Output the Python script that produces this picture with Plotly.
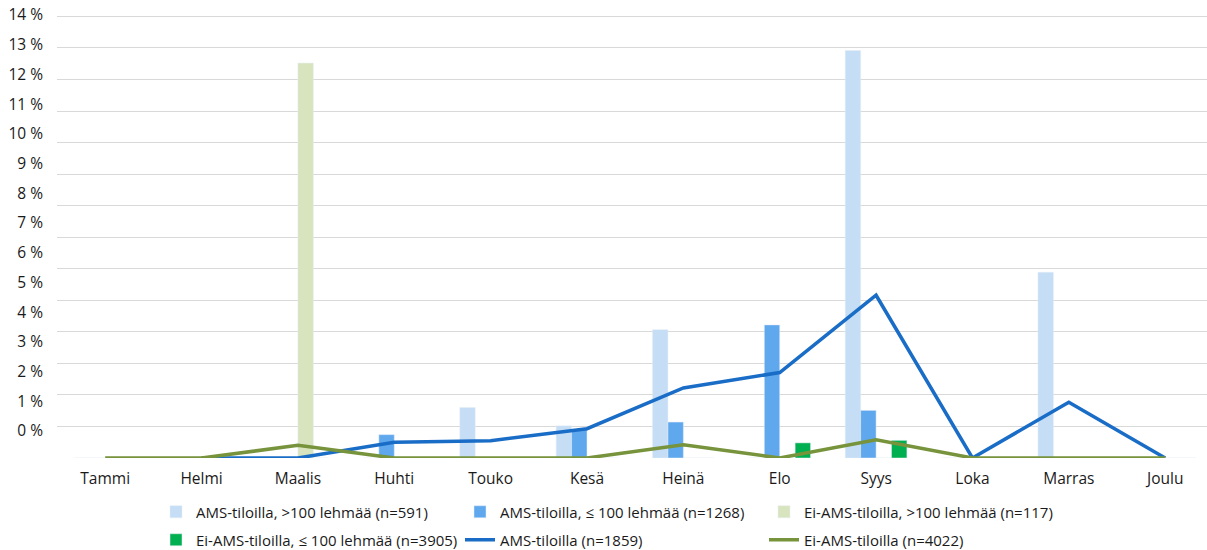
import plotly.graph_objects as go

months = ["Tammi", "Helmi", "Maalis", "Huhti", "Touko", "Kesä", "Heinä", "Elo", "Syys", "Loka", "Marras", "Joulu"]

ams_gt100 = [0, 0, 0, 0, 1.60, 1.02, 4.07, 0, 12.92, 0, 5.89, 0]
ams_le100 = [0, 0, 0, 0.74, 0, 0.92, 1.14, 4.22, 1.51, 0, 0, 0]
ei_gt100 = [0, 0, 12.52, 0, 0, 0, 0, 0, 0, 0, 0, 0]
ei_le100 = [0, 0, 0, 0, 0, 0, 0, 0.48, 0.56, 0, 0, 0]
ams_all = [None, 0, 0, 0.50, 0.55, 0.93, 2.22, 2.71, 5.16, 0, 1.77, 0]
ei_all = [0, 0, 0.40, 0, 0, 0, 0.42, 0, 0.58, 0, 0, 0]

tick_labels = [f"{i} %" for i in range(15)]

FONT = "Open Sans"
TXT = "#1a1a1a"
FS = 15.5
LFS = 15

fig = go.Figure()
fig.add_bar(x=months, y=ams_gt100, name="AMS-tiloilla, >100 lehmää (n=591)",
            marker_color="#C5DDF5", legend="legend")
fig.add_bar(x=months, y=ams_le100, name="AMS-tiloilla, ≤ 100 lehmää (n=1268)",
            marker_color="#5FA8EE", legend="legend")
fig.add_bar(x=months, y=ei_gt100, name="Ei-AMS-tiloilla, >100 lehmää (n=117)",
            marker_color="#D7E4BD", legend="legend")
fig.add_bar(x=months, y=ei_le100, name="Ei-AMS-tiloilla, ≤ 100 lehmää (n=3905)",
            marker_color="#00B050", legend="legend2")
fig.add_scatter(x=months, y=ams_all, name="AMS-tiloilla (n=1859)", mode="lines",
                line=dict(color="#1A6DC6", width=3.5), legend="legend2")
fig.add_scatter(x=months, y=ei_all, name="Ei-AMS-tiloilla (n=4022)", mode="lines",
                line=dict(color="#77933C", width=3.5), legend="legend2")
# empty helper trace so the label axis (y2) is drawn
fig.add_scatter(x=[], y=[], yaxis="y2", showlegend=False, hoverinfo="skip")

legend_common = dict(orientation="h", xref="container", yref="container",
                     xanchor="left", yanchor="middle", entrywidth=259,
                     font=dict(family=FONT, size=LFS, color=TXT),
                     bgcolor="rgba(0,0,0,0)", traceorder="normal")

fig.update_layout(
    width=1207, height=550,
    margin=dict(l=57, r=0, t=12, b=92),
    plot_bgcolor="white", paper_bgcolor="white",
    barmode="group", bargap=0.36, bargroupgap=0,
    font=dict(family=FONT, size=FS, color=TXT),
    showlegend=True,
    legend=dict(x=156/1207, y=1 - 512/550, **legend_common),
    legend2=dict(x=156/1207, y=1 - 540/550, **legend_common),
    xaxis=dict(type="category", range=[-0.5, 11.434], showgrid=False, zeroline=False,
               showline=False, ticks="", ticklabelstandoff=9,
               tickfont=dict(family=FONT, size=FS, color=TXT)),
    yaxis=dict(range=[0, 14.14], tickvals=list(range(15)), showticklabels=False,
               showgrid=True, gridcolor="#D9D9D9", gridwidth=1, zeroline=False,
               showline=False, ticks=""),
    yaxis2=dict(overlaying="y", side="left", range=[-0.909, 14.103],
                tickvals=list(range(15)), ticktext=tick_labels,
                showgrid=False, zeroline=False, showline=False, ticks="",
                ticklabelstandoff=13,
                tickfont=dict(family=FONT, size=FS, color=TXT)),
)

fig.write_html("out.html")
